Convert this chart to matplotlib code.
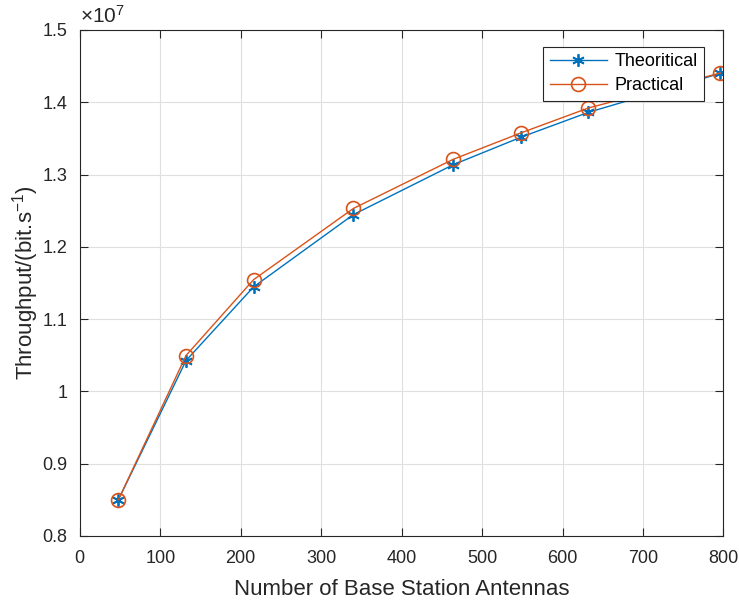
import matplotlib.pyplot as plt
from matplotlib.ticker import FuncFormatter

plt.rcParams['font.family'] = ['Liberation Sans', 'DejaVu Sans']
plt.rcParams['mathtext.fontset'] = 'custom'
plt.rcParams['mathtext.rm'] = 'Liberation Sans'
plt.rcParams['mathtext.it'] = 'Liberation Sans'

# antennas vs throughput
antennas = [48, 132, 216, 340, 464, 548, 632, 796]
theoretical = [0.850e7, 1.0425e7, 1.1445e7, 1.2445e7, 1.3135e7, 1.3515e7, 1.3860e7, 1.4400e7]
practical = [0.850e7, 1.0495e7, 1.1545e7, 1.2530e7, 1.3210e7, 1.3575e7, 1.3920e7, 1.4405e7]

fig = plt.figure(figsize=(7.39, 6), dpi=100)
ax = fig.add_axes([0.108, 0.107, 0.871, 0.843])

ax.plot(antennas, theoretical, color='#0072BD', lw=1, marker=(6, 2, 0), ms=9,
        markeredgewidth=1.3, label='Theoritical')
ax.plot(antennas, practical, color='#D95319', lw=1, marker='o', ms=10,
        markerfacecolor='none', markeredgewidth=1.2, label='Practical')

ax.set_xlim(0, 800)
ax.set_ylim(0.8e7, 1.5e7)
ax.set_xticks(range(0, 801, 100))
ax.set_yticks([0.8e7, 0.9e7, 1.0e7, 1.1e7, 1.2e7, 1.3e7, 1.4e7, 1.5e7])
ax.yaxis.set_major_formatter(FuncFormatter(lambda v, p: ('%g' % (v / 1e7))))
ax.text(0.0, 1.006, r'$\times$10$^{7}$', transform=ax.transAxes, fontsize=15,
        ha='left', va='bottom', color='#262626')

ax.grid(True, color='#dfdfdf', lw=0.8)
ax.set_axisbelow(True)
ax.tick_params(direction='in', labelsize=13, colors='#262626', length=6,
               top=True, right=True)
ax.tick_params(axis='x', pad=10)
ax.tick_params(axis='y', pad=9)
for s in ax.spines.values():
    s.set_color('#262626')
    s.set_linewidth(0.8)

ax.set_xlabel('Number of Base Station Antennas', fontsize=16, color='#262626',
              labelpad=9)
ax.set_ylabel(r'Throughput/(bit.s$^{-1}$)', fontsize=16, color='#262626')
ax.yaxis.set_label_coords(-0.061, 0.5)

leg = ax.legend(loc='upper right', bbox_to_anchor=(0.97, 0.967), fontsize=13,
                fancybox=False, edgecolor='#262626', framealpha=1,
                borderpad=0.35, handlelength=3.2, labelspacing=0.4,
                handletextpad=0.4, borderaxespad=0)
leg.get_frame().set_linewidth(0.8)

fig.savefig('out.png', dpi=100)
